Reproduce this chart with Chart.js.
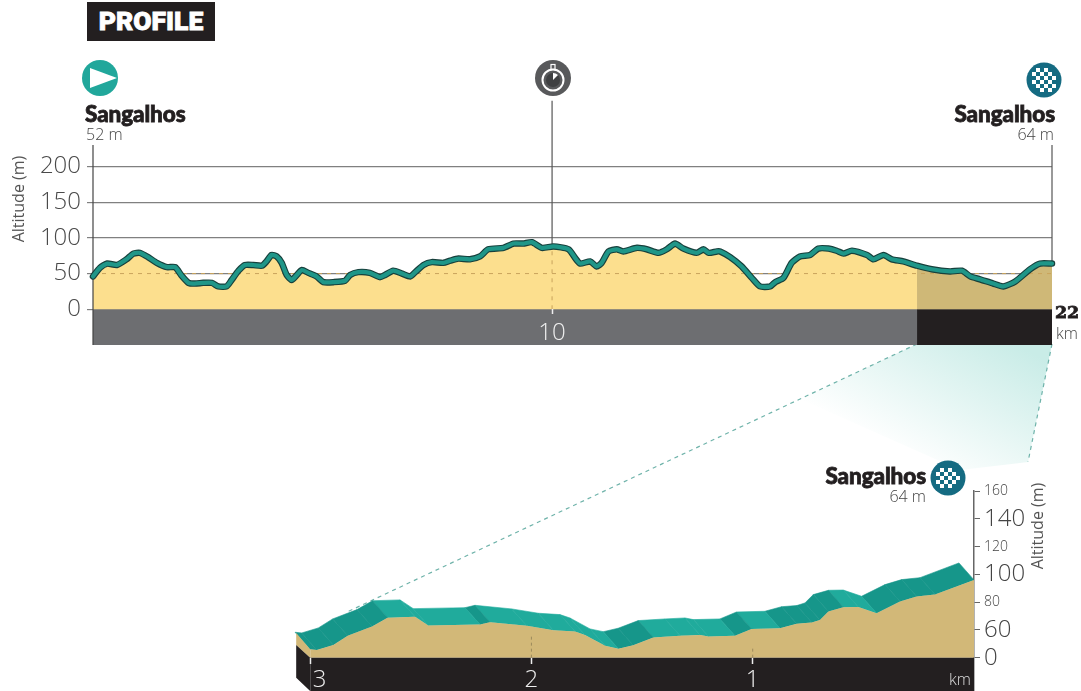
<!DOCTYPE html>
<html>
<head>
<meta charset="utf-8">
<title>Profile</title>
<script src="https://cdn.jsdelivr.net/npm/chart.js@4/dist/chart.umd.min.js"></script>
<style>
  html, body { margin: 0; padding: 0; background: #fff; }
  #page { position: relative; width: 1081px; height: 691px; overflow: hidden; font-family: "Open Sans", sans-serif; color: #444; }
  #page canvas, #page svg { position: absolute; display: block; }
  .t { position: absolute; white-space: nowrap; line-height: 1; }
  .place { font-family: Lato, sans-serif; font-weight: 900; font-size: 22.5px; color: #231f20; -webkit-text-stroke: 0.8px #231f20; letter-spacing: -0.1px; }
  .light { font-weight: 300; font-size: 16px; color: #444; }
  .rot { transform: rotate(-90deg); transform-origin: center; font-weight: 400; font-size: 16px; color: #555; }
</style>
</head>
<body>
<div id="page">
  <svg width="1081" height="691" viewBox="0 0 1081 691">
    <defs>
      <linearGradient id="cone" gradientUnits="userSpaceOnUse" x1="1000" y1="335" x2="925" y2="470">
        <stop offset="0" stop-color="#c9ece7"/>
        <stop offset="1" stop-color="#ffffff"/>
      </linearGradient>
    </defs>
    <polygon points="917,344 1052,344 1028,462 960,470 800,399" fill="url(#cone)"/>
    <line x1="917" y1="344" x2="345" y2="613" stroke="#6fb3aa" stroke-width="1.2" stroke-dasharray="4 4"/>
    <line x1="1052" y1="344" x2="1028" y2="462" stroke="#6fb3aa" stroke-width="1.2" stroke-dasharray="4 4"/>
  </svg>

  <canvas id="profileChart" width="1081" height="345" style="left:0;top:0"></canvas>
  <canvas id="zoomChart" width="1081" height="211" style="left:0;top:480px"></canvas>

  <svg width="1081" height="691" viewBox="0 0 1081 691" style="left:0;top:0;pointer-events:none">
    <defs>
      <pattern id="check" width="8" height="8" patternUnits="userSpaceOnUse">
        <rect width="8" height="8" fill="#156b82"/>
        <rect width="4" height="4" fill="#fff"/>
        <rect x="4" y="4" width="4" height="4" fill="#fff"/>
      </pattern>
    </defs>
    <rect x="87" y="2" width="128" height="39" fill="#231f20"/>
    <circle cx="100" cy="78" r="18" fill="#21a79b"/>
    <polygon points="90,68 90,88 117,78" fill="#fff"/>
    <circle cx="553" cy="78" r="18" fill="#58595b"/>
    <circle cx="553" cy="80" r="10.5" fill="none" stroke="#fff" stroke-width="2"/>
    <circle cx="553" cy="80" r="7" fill="#3f4042"/>
    <path d="M553 80 L553 73 A7 7 0 0 1 558 75 Z" fill="#fff"/>
    <rect x="551" y="64.500" width="4" height="5" fill="none" stroke="#fff" stroke-width="1.2"/>
    <circle cx="1044" cy="80" r="17.500" fill="#156b82"/>
    <polygon points="1032,72 1036,72 1036,68 1052,68 1052,72 1056,72 1056,88 1052,88 1052,92 1036,92 1036,88 1032,88" fill="url(#check)"/>
    <circle cx="948" cy="478" r="17.500" fill="#156b82"/>
    <polygon points="936,472 940,472 940,468 956,468 956,472 960,472 960,484 956,484 956,488 940,488 940,484 936,484" fill="url(#check)"/>
  </svg>

  <div class="t" style="left:87px;top:8px;width:128px;text-align:center;font-family:Roboto,sans-serif;font-weight:900;font-size:26.500px;color:#fff;-webkit-text-stroke:0.8px #fff">PROFILE</div>
  <div class="t place" style="left:85px;top:103px">Sangalhos</div>
  <div class="t light" style="left:86px;top:126px">52 m</div>
  <div class="t place" style="right:26px;top:103px">Sangalhos</div>
  <div class="t light" style="right:27px;top:126px">64 m</div>
  <div class="t place" style="left:1055px;top:304px;font-size:17.500px;font-family:'DejaVu Serif',serif;">22</div>
  <div class="t light" style="left:1056px;top:325px">km</div>
  <div class="t rot" style="left:-27px;top:191px;width:90px;text-align:center">Altitude (m)</div>
  <div class="t place" style="right:155px;top:465px">Sangalhos</div>
  <div class="t light" style="right:155px;top:488px">64 m</div>
  <div class="t rot" style="left:992px;top:518px;width:90px;text-align:center">Altitude (m)</div>
  <div class="t light" style="left:949px;top:671px;color:#ddd">km</div>
</div>

<script>
// main profile (km along the x scale, metres)
const profileKm = [0, 0.15, 0.31, 0.52, 0.73, 0.88, 1.02, 1.20, 1.39, 1.61, 1.79, 1.93, 2.08, 2.22, 2.40, 2.59, 2.73, 2.91, 3.02, 3.17, 3.31, 3.49, 3.68, 3.78, 3.89, 4.00, 4.11, 4.22, 4.33, 4.44, 4.55, 4.69, 4.87, 5.02, 5.24, 5.49, 5.60, 5.78, 6.03, 6.25, 6.36, 6.54, 6.73, 6.91, 7.02, 7.20, 7.38, 7.63, 7.78, 7.96, 8.21, 8.43, 8.61, 8.94, 9.16, 9.37, 9.56, 9.78, 10.03, 10.36, 10.50, 10.61, 10.83, 10.97, 11.08, 11.23, 11.41, 11.55, 11.85, 12.06, 12.32, 12.50, 12.68, 12.86, 13.15, 13.30, 13.41, 13.59, 13.66, 13.88, 14.13, 14.35, 14.53, 14.75, 14.86, 15.04, 15.22, 15.40, 15.62, 15.80, 16.02, 16.20, 16.35, 16.53, 16.86, 17.00, 17.22, 17.40, 17.65, 17.95, 18.27, 18.67, 18.93, 19.11, 19.32, 19.61, 19.83, 20.09, 20.41, 20.63, 20.89];
const profileAlt = [46, 58, 64, 62, 70, 78, 79, 73, 65, 59, 59, 47, 37, 36, 37, 37, 32, 32, 41, 54, 62, 62, 61, 67, 76, 74, 65, 48, 41, 48, 55, 51, 46, 38, 38, 40, 48, 52, 51, 45, 48, 54, 50, 46, 52, 62, 66, 65, 68, 71, 70, 74, 84, 86, 92, 92, 94, 86, 88, 84, 72, 64, 67, 60, 65, 81, 84, 81, 86, 84, 79, 84, 92, 85, 79, 84, 79, 81, 81, 73, 60, 44, 32, 32, 38, 44, 65, 74, 76, 85, 85, 82, 78, 82, 76, 70, 76, 70, 67, 61, 56, 53, 54, 46, 42, 36, 32, 39, 56, 64, 64];
const altTicks = [0, 50, 100, 150, 200];
const kmTicks = [10];
const splitKm = 17.95;   // start of the last 3 km
const endKm = 20.89;

// last 3 km zoom: km to go, altitude on the zoom axis
const zoomKm = [3.0, 2.97, 2.895, 2.83, 2.72, 2.65, 2.526, 2.466, 2.232, 2.187, 2.021, 1.901, 1.803, 1.758, 1.667, 1.607, 1.54, 1.449, 1.328, 1.238, 1.2, 1.08, 1.005, 0.877, 0.801, 0.733, 0.696, 0.658, 0.59, 0.523, 0.44, 0.334, 0.259, 0.176, 0];
const zoomAlt = [46.1, 45.6, 49.2, 55.7, 62.4, 68.8, 69.4, 63.1, 63.8, 65.5, 62.9, 59.8, 58.8, 56.4, 48.5, 46.5, 49, 54.5, 55.7, 56.4, 55.2, 55.7, 60.7, 61.2, 64.5, 65.3, 67.2, 73.2, 76.3, 76.5, 72, 80.4, 84, 85.4, 96];
// 1 = rising face (darker teal) for each stretch between two points
const zoomFaceDark = [1, 1, 1, 1, 1, 0, 0, 0, 1, 0, 0, 0, 0, 0, 0, 1, 1, 0, 0, 0, 0, 1, 0, 1, 1, 1, 1, 1, 0, 0, 1, 1, 1, 1];
const zoomDepthKm = 0.068;
const zoomDepthAlt = 12.2;
const zoomAltTicks = [40, 60, 80, 100, 120, 140, 160];
const zoomBigTicks = [40, 60, 100, 140];
const zoomBase = 40;   // the axis is broken: this level is labelled 0
const zoomKmTicks = [3, 2, 1];

const tickFont = '"Open Sans", sans-serif';

function pts(xs, ys) {
  return xs.map((x, i) => ({ x: x, y: ys[i] }));
}
function seg(x0, y0, x1, y1) {
  return [{ x: x0, y: y0 }, { x: x1, y: y1 }];
}
// plot area must sit on exact pixels, so no room is kept for the tick labels
function noPadding(s) {
  s.paddingTop = 0;
  s.paddingBottom = 0;
  s.paddingLeft = 0;
  s.paddingRight = 0;
}

Chart.defaults.animation = false;
Chart.defaults.plugins.legend.display = false;
Chart.defaults.plugins.tooltip.enabled = false;
Chart.defaults.elements.point.radius = 0;

const profileLine = pts(profileKm, profileAlt);

new Chart(document.getElementById('profileChart'), {
  type: 'line',
  data: {
    datasets: [
      // ground bands below 0
      { data: seg(0, -50, splitKm, -50), borderWidth: 0, fill: { value: 0 }, backgroundColor: '#6d6e71', order: 9 },
      { data: seg(splitKm, -50, endKm, -50), borderWidth: 0, fill: { value: 0 }, backgroundColor: '#231f20', order: 9 },
      // timing check line, behind the profile
      { data: seg(kmTicks[0], 88, kmTicks[0], 292), borderColor: '#555', borderWidth: 1.2, fill: false, order: 8 },
      // profile fill, then outline on top
      {
        data: profileLine, tension: 0.2, fill: { value: 0 }, borderWidth: 0, backgroundColor: '#fcdf8e', order: 7,
        segment: { backgroundColor: c => c.p0.parsed.x >= splitKm ? '#cfb877' : '#fcdf8e' }
      },
      { data: seg(0, 50, endKm, 50), borderColor: '#c9a45c', borderWidth: 1, borderDash: [4, 5], fill: false, order: 6 },
      { data: seg(kmTicks[0], 0, kmTicks[0], 88), borderColor: '#c9a45c', borderWidth: 1, borderDash: [4, 5], fill: false, order: 6 },
      { data: profileLine, tension: 0.2, fill: false, borderColor: '#17403c', borderWidth: 6.5, borderCapStyle: 'round', borderJoinStyle: 'round', clip: false, order: 3 },
      { data: profileLine, tension: 0.2, fill: false, borderColor: '#1f9688', borderWidth: 4.2, borderCapStyle: 'round', borderJoinStyle: 'round', clip: false, order: 2 },
      // start and finish verticals
      { data: seg(0, -50, 0, 230), borderColor: '#444', borderWidth: 1.2, fill: false, clip: false, order: 5 },
      { data: seg(endKm, 64, endKm, 230), borderColor: '#555', borderWidth: 1.2, fill: false, clip: false, order: 5 }
    ]
  },
  options: {
    responsive: false,
    layout: { autoPadding: false, padding: { top: 95, right: 29 } },
    scales: {
      x: {
        type: 'linear', min: 0, max: endKm, position: { y: 0 },
        afterBuildTicks: a => { a.ticks = kmTicks.map(v => ({ value: v })); },
        afterFit: s => { s.height = 0; noPadding(s); },
        grid: { z: 1, drawOnChartArea: false, tickLength: 5, tickColor: '#eee', tickWidth: 1.5 },
        border: { display: false },
        ticks: { z: 1, autoSkip: false, maxRotation: 0, color: '#eee', padding: 4, font: { family: tickFont, size: 24, weight: '300' } }
      },
      y: {
        position: 'left', min: -50, max: 300,
        afterBuildTicks: a => { a.ticks = altTicks.map(v => ({ value: v })); },
        afterFit: s => { s.width = 93; noPadding(s); },
        grid: { color: '#808080', lineWidth: 1.2, tickLength: 6, tickColor: '#808080' },
        border: { display: false },
        ticks: { autoSkip: false, color: '#4a4a4a', padding: 6, font: { family: tickFont, size: 24, weight: '300' } }
      }
    }
  }
});

// zoom chart: one closed shape per stretch of the road band
const zoomFaces = zoomFaceDark.map((dark, i) => ({
  data: [
    { x: zoomKm[i], y: zoomAlt[i] },
    { x: zoomKm[i + 1], y: zoomAlt[i + 1] },
    { x: zoomKm[i + 1] + zoomDepthKm, y: zoomAlt[i + 1] + zoomDepthAlt },
    { x: zoomKm[i] + zoomDepthKm, y: zoomAlt[i] + zoomDepthAlt },
    { x: zoomKm[i], y: zoomAlt[i] }
  ],
  fill: 'shape',
  backgroundColor: dark ? '#16968a' : '#20ab9c',
  borderColor: dark ? '#16968a' : '#20ab9c',
  borderWidth: 0.6,
  order: 6
}));

const zoomFront = pts(zoomKm, zoomAlt);

new Chart(document.getElementById('zoomChart'), {
  type: 'line',
  data: {
    datasets: [
      { data: seg(3, 16, 0, 16), borderWidth: 0, fill: { value: zoomBase }, backgroundColor: '#231f20', order: 4 },
      { data: zoomFront, borderWidth: 0, fill: { value: zoomBase }, backgroundColor: '#d2b878', order: 5 },
      // left side of the block
      { data: [{ x: 3.063, y: 57.8 }, { x: 3, y: 46.1 }, { x: 3, y: zoomBase }, { x: 3.063, y: 49.2 }, { x: 3.063, y: 57.8 }], fill: 'shape', backgroundColor: '#d2b878', borderWidth: 0, order: 5 },
      { data: [{ x: 3.063, y: 49.2 }, { x: 3, y: zoomBase }, { x: 3, y: 16 }, { x: 3.063, y: 25.5 }, { x: 3.063, y: 49.2 }], fill: 'shape', backgroundColor: '#231f20', borderWidth: 0, order: 4 },
      { data: seg(2, zoomBase, 2, 56), borderColor: '#9c8a5c', borderWidth: 1, borderDash: [3, 3], fill: false, order: 3 },
      { data: seg(1, zoomBase, 1, 48), borderColor: '#9c8a5c', borderWidth: 1, borderDash: [3, 3], fill: false, order: 3 }
    ].concat(zoomFaces)
  },
  options: {
    responsive: false,
    layout: { autoPadding: false, padding: { top: 11, left: 288 } },
    scales: {
      x: {
        type: 'linear', min: 0, max: 3.1, reverse: true, position: { y: zoomBase },
        afterBuildTicks: a => { a.ticks = zoomKmTicks.map(v => ({ value: v })); },
        afterFit: s => { s.height = 0; noPadding(s); },
        grid: { z: 1, drawOnChartArea: false, tickLength: 6, tickColor: '#eee', tickWidth: 1.5 },
        border: { display: false },
        ticks: {
          z: 1, autoSkip: false, maxRotation: 0, color: '#eee', padding: 2,
          font: { family: tickFont, size: 24, weight: '300' },
          callback: v => v === 3 ? '\u00a0\u00a0\u00a03' : String(v)
        }
      },
      y: {
        position: 'right', min: 16, max: 160,
        afterBuildTicks: a => { a.ticks = zoomAltTicks.map(v => ({ value: v })); },
        afterFit: s => { s.width = 107; noPadding(s); },
        grid: { drawOnChartArea: false, tickLength: 6, tickColor: '#666' },
        border: { display: true, color: '#666', width: 1.5 },
        ticks: {
          autoSkip: false, color: '#444', padding: 4,
          font: c => ({ family: tickFont, weight: '300', size: c.tick && !zoomBigTicks.includes(c.tick.value) ? 14 : 24 }),
          callback: v => v === zoomBase ? '0' : String(v)
        }
      }
    }
  }
});
</script>
</body>
</html>
